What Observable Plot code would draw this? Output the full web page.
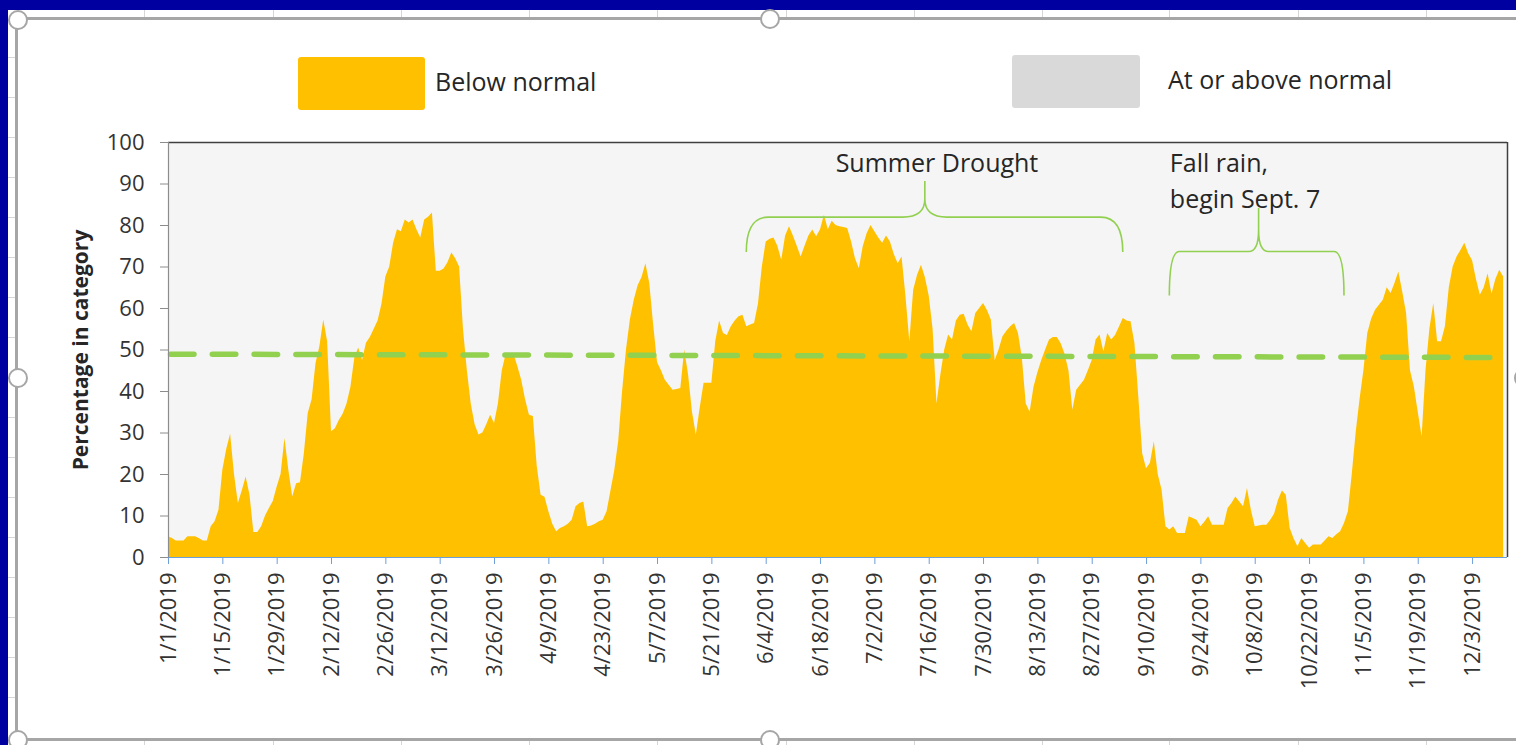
<!DOCTYPE html>
<html>
<head>
<meta charset="utf-8">
<script src="https://cdn.jsdelivr.net/npm/d3@7"></script>
<script src="https://cdn.jsdelivr.net/npm/@observablehq/plot@0.6"></script>
<style>
  html, body { margin: 0; padding: 0; }
  body { width: 1516px; height: 745px; overflow: hidden; background: #0000a0; position: relative; font-family: "Open Sans", sans-serif; }
  #sheet { position: absolute; left: 8px; top: 10px; width: 1508px; height: 735px; background: #fff; }
  .gv { position: absolute; width: 1px; background: #d6d6d6; }
  .gh { position: absolute; height: 1px; background: #d6d6d6; }
  #chartobj { position: absolute; left: 15px; top: 17px; width: 1600px; height: 724px; box-sizing: border-box; border: 3px solid #a6a6a6; background: #fff; }
  .sw { position: absolute; border-radius: 3px; }
  .lg { position: absolute; font-size: 25px; line-height: 25px; color: #262626; white-space: nowrap; }
  #plot { position: absolute; left: 0; top: 120px; }
  .hd { position: absolute; width: 16px; height: 16px; border: 2px solid #a6a6a6; border-radius: 50%; background: #fff; }
</style>
</head>
<body>
<div id="sheet"></div>
<div id="chartobj"></div>
<div class="sw" style="left:298px;top:57px;width:127px;height:53px;background:#ffc000"></div>
<div class="lg" style="left:435px;top:69px">Below normal</div>
<div class="sw" style="left:1012px;top:55px;width:128px;height:53px;background:#d9d9d9"></div>
<div class="lg" style="left:1168px;top:67px">At or above normal</div>
<div id="plot"></div>
<script>
// ---------- data ----------
const startDate = "2019-01-01";
// daily percentage of area in the "below normal" category, from 1/1/2019
const belowNormal = [
  5, 4.6, 4, 4, 4, 5, 5, 5, 4.5, 4,
  4, 7.4, 8.6, 11.4, 21, 26, 29.7, 20, 13, 16,
  19.4, 15, 6, 6, 7.4, 10, 11.8, 13.5, 17, 20,
  28.7, 21, 14.6, 17.8, 18, 25, 34.7, 38, 46.7, 50.8,
  57.2, 52, 30.3, 31, 33, 34.5, 37, 41, 48, 50.5,
  47.5, 51.6, 53, 55, 57, 61, 67.6, 70, 75.7, 79,
  78.5, 81.3, 80.6, 81.3, 79, 77, 81.3, 82, 83, 69,
  69, 69.5, 71, 73.4, 72, 70, 55, 45, 37, 32,
  29.5, 30, 32, 34.3, 32.3, 37, 45, 49, 49, 49,
  46, 42.7, 38, 34.3, 34, 22, 15, 14.5, 11, 8,
  6.2, 7, 7.4, 8, 9, 12.2, 13, 13.4, 7.4, 7.6,
  8, 8.6, 9, 11, 16, 21, 28, 40, 50, 57.2,
  62, 65.5, 67.5, 70.8, 66, 56, 47, 45, 42.7, 41.5,
  40.3, 40.5, 40.7, 50, 44, 35, 29.5, 36, 42, 42,
  42, 52, 57, 54, 53.5, 55.6, 57, 58, 58.4, 55.6,
  56, 56.4, 61, 70, 76, 76.7, 77, 75, 71.6, 77.5,
  79.7, 77.5, 75, 72.4, 75, 77.5, 78.9, 77.3, 79, 82.5,
  79, 81, 80, 79.7, 79.5, 79.3, 76, 72, 69.6, 74.9,
  78, 80, 78.5, 77, 75.7, 77.5, 76, 73, 70.8, 72.4,
  63, 52, 64.4, 68, 70.4, 67.5, 63, 55, 37, 44,
  50, 53.6, 52.4, 57, 58.4, 58.6, 56, 54.4, 58.8, 60,
  61.2, 59.5, 57.2, 47.5, 50, 53.2, 54.5, 55.6, 56.4, 54,
  48, 37, 35, 41, 44.5, 47.5, 50, 52.4, 53, 53,
  51.5, 49, 45, 35.5, 40.3, 41.5, 42.7, 45, 47.5, 52.4,
  53.6, 49.6, 54, 52.4, 53.5, 55.5, 57.6, 57, 56.8, 51.6,
  38.7, 25, 21.4, 22.7, 27.9, 20, 16.2, 7.4, 6.6, 7.4,
  5.8, 5.8, 5.8, 9.8, 9.4, 9, 7.4, 8.5, 9.8, 7.8,
  7.8, 7.8, 7.8, 11.8, 13, 14.6, 13.4, 12.2, 16.6, 11.4,
  7.4, 7.6, 7.8, 7.8, 9, 10.5, 13.8, 16, 15, 7,
  4.5, 2.6, 4.6, 3.4, 2.2, 3, 3, 3, 4, 5,
  4.6, 5.5, 6.2, 8.2, 11, 20, 30, 38, 45, 54,
  57.5, 59.6, 60.8, 62, 65, 63.6, 66, 68.8, 64, 58.8,
  45, 41.1, 35, 29.1, 45, 55, 61.2, 52, 52, 55.6,
  65, 70, 72.4, 74, 75.7, 73.2, 71.5, 67, 63.2, 65,
  68.4, 63.5, 67, 69.2, 67.6
];
const xDomain = ["2019-01-01", "2019-12-12"];
const xTickDates = [
  "2019-01-01", "2019-01-15", "2019-01-29", "2019-02-12", "2019-02-26",
  "2019-03-12", "2019-03-26", "2019-04-09", "2019-04-23", "2019-05-07",
  "2019-05-21", "2019-06-04", "2019-06-18", "2019-07-02", "2019-07-16",
  "2019-07-30", "2019-08-13", "2019-08-27", "2019-09-10", "2019-09-24",
  "2019-10-08", "2019-10-22", "2019-11-05", "2019-11-19", "2019-12-03"
];
const yTicks = [0, 10, 20, 30, 40, 50, 60, 70, 80, 90, 100];
const trendDates = ["2019-01-01", "2019-12-11"];
const trendValues = [49, 48.2];
// annotations
const noteTexts = ["Summer Drought", "Fall rain,\nbegin Sept. 7"];
const noteDates = ["2019-07-18", "2019-09-16"];
const noteValues = [94.7, 91.3];
const braceStart = ["2019-05-30", "2019-09-16"];
const braceEnd = ["2019-09-04", "2019-10-31"];
const braceTip = ["2019-07-15", "2019-10-09"];
const braceFoot = [73.5, 63];
const braceLevel = [81.9, 73.6];
const braceTop = [90.6, 84.1];
const braceCorner = [22, 10];

// ---------- page decoration (spreadsheet gridlines) ----------
const sheet = document.getElementById("sheet");
[144, 273, 401, 529, 657, 786, 914, 1042, 1169, 1298, 1426].forEach(x => {
  const d = document.createElement("div"); d.className = "gv";
  d.style.left = (x - 8) + "px"; d.style.top = "0px"; d.style.height = "735px"; sheet.appendChild(d);
});
for (let y = 57; y < 745; y += 40) {
  const d = document.createElement("div"); d.className = "gh";
  d.style.left = "0px"; d.style.top = (y - 10) + "px"; d.style.width = "1508px"; sheet.appendChild(d);
}

// ---------- chart ----------
const parse = s => new Date(s + "T00:00:00Z");
const start = parse(startDate);
const rows = belowNormal.map((v, i) => ({date: d3.utcDay.offset(start, i), below: v}));
const trend = trendDates.map((d, i) => ({date: parse(d), value: trendValues[i]}));
const notes = noteTexts.map((t, i) => ({text: t, date: parse(noteDates[i]), value: noteValues[i]}));
const fmt = d => `${d.getUTCMonth() + 1}/${d.getUTCDate()}/${d.getUTCFullYear()}`;
const dom = xDomain.map(parse);

const chart = Plot.plot({
  width: 1516,
  height: 625,
  marginLeft: 168,
  marginRight: 9,
  marginTop: 22,
  marginBottom: 188,
  style: {background: "transparent", fontFamily: "'Open Sans', sans-serif", fontSize: "22px", color: "#333", overflow: "visible"},
  x: {type: "utc", domain: dom},
  y: {domain: [0, 100]},
  marks: [
    Plot.frame({fill: "#f5f5f5", stroke: null}),
    Plot.areaY(rows, {x: "date", y: "below", fill: "#ffc000", curve: "linear"}),
    Plot.line(trend, {x: "date", y: "value", stroke: "#92d050", strokeWidth: 5.5, strokeDasharray: "23.5,18.3", strokeDashoffset: -2}),
    Plot.ruleY([100], {stroke: "#404040", strokeWidth: 1.5}),
    Plot.ruleX([dom[1]], {stroke: "#404040", strokeWidth: 1.5}),
    Plot.ruleX([dom[0]], {stroke: "#8c8c8c", strokeWidth: 1.2}),
    Plot.ruleY([0], {stroke: "#6f9fd8", strokeWidth: 1.2}),
    Plot.axisY({ticks: yTicks, tickSize: 8, tickPadding: 16, stroke: "#8c8c8c", fill: "#333", label: null, fontSize: 22}),
    Plot.axisX({ticks: xTickDates.map(parse), tickFormat: fmt, tickRotate: -90, tickSize: 7, tickPadding: 8, stroke: "#6f9fd8", fill: "#333", label: null, fontSize: 22}),
    Plot.text(["Percentage in category"], {frameAnchor: "left", textAnchor: "middle", lineAnchor: "middle", dx: -87, rotate: -90, fontWeight: "bold", fontSize: 21, fill: "#262626"}),
    Plot.text(notes.slice(0, 1), {x: "date", y: "value", text: "text", textAnchor: "middle", fontSize: 25, fill: "#262626"}),
    Plot.text(notes.slice(1), {x: "date", y: "value", text: "text", textAnchor: "start", fontSize: 25, lineHeight: 1.44, fill: "#262626"})
  ]
});
document.getElementById("plot").appendChild(chart);

// curly braces drawn through the chart's own scales
const sx = chart.scale("x"), sy = chart.scale("y");
const svg = d3.select(chart);
braceStart.forEach((s, i) => {
  const xa = sx.apply(parse(s)), xb = sx.apply(parse(braceEnd[i])), xm = sx.apply(parse(braceTip[i]));
  const yF = sy.apply(braceFoot[i]), yL = sy.apply(braceLevel[i]), yT = sy.apply(braceTop[i]);
  const r = braceCorner[i], k = (yL - yT) * 0.5;
  const p = `M${xa},${yF} Q${xa},${yL} ${xa + r},${yL} L${xm - r},${yL} Q${xm},${yL} ${xm},${yL - k} L${xm},${yT}` +
            ` M${xm},${yL - k} Q${xm},${yL} ${xm + r},${yL} L${xb - r},${yL} Q${xb},${yL} ${xb},${yF}`;
  svg.append("path").attr("d", p).attr("fill", "none").attr("stroke", "#92d050").attr("stroke-width", 1.6);
});

// selection handles of the chart object
[[18, 20], [770, 19], [18, 378], [18, 740], [770, 740], [1524, 378]].forEach(([x, y]) => {
  const h = document.createElement("div"); h.className = "hd";
  h.style.left = (x - 10) + "px"; h.style.top = (y - 10) + "px";
  document.body.appendChild(h);
});
</script>
</body>
</html>
